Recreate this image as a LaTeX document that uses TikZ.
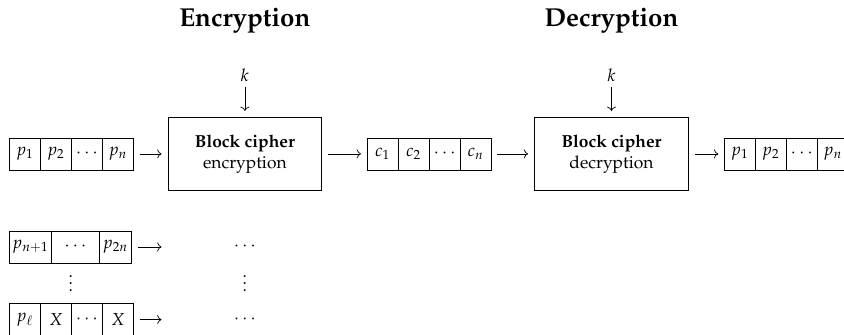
\documentclass[tikz,border=0pt]{standalone}
\usepackage[T1]{fontenc}
\usepackage{mathpazo}
\usepackage{tikz}
\usetikzlibrary{positioning,arrows.meta,calc}
\tikzset{
  cell/.style={rectangle,draw,outer sep=0pt,inner sep=1pt,
    minimum width=6.27mm,minimum height=6.47mm},
  cipher/.style={rectangle,draw,align=center,
    minimum width=31.1mm,minimum height=14.75mm},
  ttl/.style={font=\fontsize{14.9}{18}\selectfont\bfseries,anchor=base},
  keylbl/.style={anchor=base},
  ar/.style={-{To},shorten <=3.5pt,shorten >=3.5pt},
}

\begin{document}
\begin{tikzpicture}
  \useasboundingbox (0,0) rectangle (17.06,-6.77);
  % titles
  \node[ttl] (tenc) at (4.95,-0.54) {Encryption};
  \node[ttl] (tdec) at (12.36,-0.54) {Decryption};
  % first block: p -> E -> c -> D -> p
  \node[cell,anchor=west] (p1) at (0.19,-3.11) {$p_1$};
  \node[cell,right=0pt of p1] (p2) {$p_2$};
  \node[cell,right=0pt of p2] (pd) {$\cdots$};
  \node[cell,right=0pt of pd] (pn) {$p_n$};
  \node[cipher] (enc) at (4.95,-3.11) {\textbf{Block cipher}\\encryption};
  \node[cell,anchor=west] (c1) at (7.42,-3.11) {$c_1$};
  \node[cell,right=0pt of c1] (c2) {$c_2$};
  \node[cell,right=0pt of c2] (cd) {$\cdots$};
  \node[cell,right=0pt of cd] (cn) {$c_n$};
  \node[cipher] (dec) at (12.36,-3.11) {\textbf{Block cipher}\\decryption};
  \node[cell,anchor=west] (q1) at (14.64,-3.11) {$p_1$};
  \node[cell,right=0pt of q1] (q2) {$p_2$};
  \node[cell,right=0pt of q2] (qd) {$\cdots$};
  \node[cell,right=0pt of qd] (qn) {$p_n$};
  % keys
  \node[keylbl] (k1) at (4.95,-1.64) {$k$};
  \node[keylbl] (k2) at (12.36,-1.64) {$k$};
  % further blocks
  \node[cell,anchor=west,minimum width=8.5mm] (s1) at (0.19,-4.99) {$p_{n+1}$};
  \node[cell,right=0pt of s1,minimum width=9.7mm] (s2) {$\cdots$};
  \node[cell,right=0pt of s2,minimum width=6.47mm] (s3) {$p_{2n}$};
  \node (vl) at (1.43,-5.62) {$\vdots$};
  \node[cell,anchor=west] (t1) at (0.19,-6.46) {$p_\ell$};
  \node[cell,right=0pt of t1] (t2) {$X$};
  \node[cell,right=0pt of t2] (t3) {$\cdots$};
  \node[cell,right=0pt of t3] (t4) {$X$};
  \coordinate (s4) at (enc.west |- s3);
  \coordinate (t5) at (enc.west |- t4);
  \node (sd) at (enc |- s3) {$\cdots$};
  \node (vr) at (enc |- vl) {$\vdots$};
  \node (td) at (enc |- t4) {$\cdots$};
  \foreach \a/\b in {pn/enc,enc/c1,cn/dec,dec/q1,s3/s4,t4/t5}
    \draw[ar] (\a)--(\b);
  \draw[ar,shorten <=0pt] (k1)--(enc);
  \draw[ar,shorten <=0pt] (k2)--(dec);
\end{tikzpicture}
\end{document}
